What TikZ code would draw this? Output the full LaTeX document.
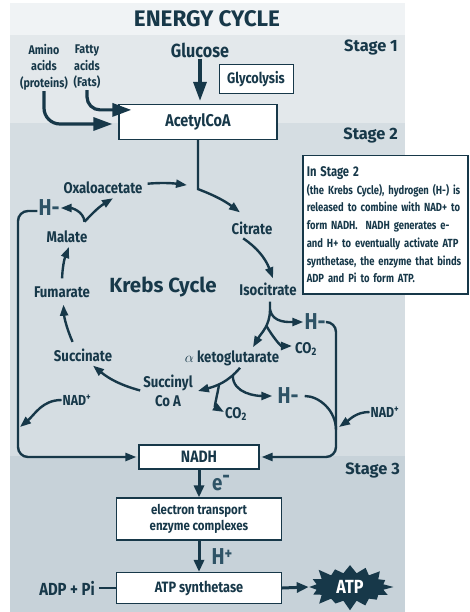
\documentclass[tikz,border=0pt]{standalone}
\usepackage{fontspec}
\setmainfont{Fira Sans}
\newfontfamily\condfont{Fira Sans}[FakeStretch=0.85]
\newfontfamily\infofont{Fira Sans}[FakeStretch=0.8]
\usepackage{tikz}
\usetikzlibrary{positioning, arrows.meta, calc, shapes.symbols}
\definecolor{darkteal}{HTML}{173849}
\definecolor{slate}{HTML}{2E5366}
\definecolor{bandtitle}{HTML}{F0F3F5}
\definecolor{bandone}{HTML}{E3E8EB}
\definecolor{bandtwo}{HTML}{D5DDE2}
\definecolor{bandthree}{HTML}{C7D2D9}

\begin{document}
\begin{tikzpicture}[x=1pt, y=1pt, text=darkteal]

    % --- styles ---
    \tikzset{
        lbl/.style={font=\condfont\bfseries\fontsize{15.5}{17}\selectfont, inner sep=1pt},
        smalllbl/.style={font=\condfont\bfseries\fontsize{12.6}{16.5}\selectfont, align=center, inner sep=1pt},
        biglbl/.style={font=\condfont\bfseries\fontsize{23}{23}\selectfont, text=slate, inner sep=1pt},
        stage/.style={font=\bfseries\fontsize{16.4}{18}\selectfont, anchor=east, inner sep=0pt},
        block/.style={rectangle, draw=darkteal, line width=1.2pt, fill=white, align=center,
                      font=\condfont\bfseries\fontsize{15}{17}\selectfont},
        arr/.style={draw=darkteal, line width=2.4pt, -{Triangle[length=11pt, width=8pt]}},
        fatarr/.style={draw=darkteal, line width=3.2pt, -{Triangle[length=19pt, width=13pt]}},
        flow/.style={draw=darkteal, line width=3pt, -{Triangle[length=12pt, width=10pt]}}
    }

    % --- background bands ---
    \useasboundingbox (0,0) rectangle (470,-612);
    \fill[bandtitle] (10,-3) rectangle (405,-35);
    \fill[bandone]   (10,-35) rectangle (405,-123);
    \fill[bandtwo]   (10,-123) rectangle (405,-456);
    \fill[bandthree] (10,-456) rectangle (405,-612);

    \node[font=\bfseries\fontsize{22.5}{24}\selectfont] (title) at (207,-19) {ENERGY CYCLE};
    \node[stage] (st1) at (398,-48)  {Stage 1};
    \node[stage] (st2) at (398,-135) {Stage 2};
    \node[stage] (st3) at (400,-470) {Stage 3};

    % --- stage 1 ---
    \node[smalllbl] (amino) at (44,-67) {Amino\\acids\\(proteins)};
    \node[smalllbl] (fatty) at (87,-67) {Fatty\\acids\\(Fats)};
    \node[lbl, font=\condfont\bfseries\fontsize{19}{21}\selectfont] (glu) at (200,-50) {Glucose};
    \node[block, line width=1pt, minimum width=74pt, minimum height=29pt] (glyc) at (256,-79) {Glycolysis};
    \node[block, minimum width=158pt, minimum height=35pt, font=\condfont\bfseries\fontsize{17}{19}\selectfont] (acetyl) at (198,-122) {AcetylCoA};

    \draw[fatarr, shorten >=3pt] (glu.south) -- (glu.south |- acetyl.north);
    \draw[fatarr, rounded corners=16pt] (amino.south) |- ([xshift=-6pt, yshift=-2pt]acetyl.west);
    \draw[fatarr, rounded corners=13pt] (fatty.south) |- ([shift={(13pt,-6pt)}]acetyl.north west);

    % --- stage 2: Krebs cycle ---
    \node[lbl] (oxa)  at (103,-188) {Oxaloacetate};
    \node[lbl] (cit)  at (252,-228) {Citrate};
    \node[lbl] (iso)  at (268,-289) {Isocitrate};
    \node[lbl] (akg)  at (232,-358) {$\alpha$ ketoglutarate};
    \node[lbl, align=center, font=\condfont\bfseries\fontsize{15.5}{19.5}\selectfont] (succoa) at (168,-391) {Succinyl\\Co A};
    \node[lbl] (succ) at (83,-355)  {Succinate};
    \node[lbl] (fum)  at (62,-292)  {Fumarate};
    \node[lbl] (mal)  at (67,-237)  {Malate};
    \node[font=\bfseries\fontsize{20.5}{22}\selectfont] (krebs) at (163,-287) {Krebs Cycle};

    \node[biglbl] (hA) at (49,-208)  {H-};
    \node[biglbl] (hB) at (315,-322) {H-};
    \node[biglbl] (hC) at (288,-396) {H-};
    \node[lbl] (co2a) at (306,-349) {CO\textsubscript{2}};
    \node[lbl] (co2b) at (236,-414) {CO\textsubscript{2}};
    \node[lbl, font=\condfont\bfseries\fontsize{14.5}{16}\selectfont] (nadL) at (77,-400)  {NAD\textsuperscript{+}};
    \node[lbl, font=\condfont\bfseries\fontsize{14.5}{16}\selectfont] (nadR) at (385,-412) {NAD\textsuperscript{+}};

    % info box
    \node[draw=darkteal, line width=1.5pt, fill=white, anchor=north west, align=left,
          text width=157pt, minimum height=138pt, inner xsep=4pt, inner ysep=0pt,
          font=\infofont\bfseries\fontsize{11.8}{17.7}\selectfont] (info) at (302,-155)
        {{\fontsize{14}{17.7}\selectfont In Stage 2}\\
         (the Krebs Cycle), hydrogen (H-) is\\
         released to combine with NAD+ to\\
         form NADH.\ \ NADH generates e-\\
         and H+ to eventually activate ATP\\
         synthetase, the enzyme that binds\\
         ADP and Pi to form ATP.};

    % --- stage 3 ---
    \node[block, minimum width=120pt, minimum height=24pt, font=\condfont\bfseries\fontsize{16.5}{18}\selectfont] (nadh) at (199,-457) {NADH};
    \node[biglbl, font=\condfont\bfseries\fontsize{22}{22}\selectfont] (eminus) at (221,-483) {e\raisebox{.3em}{-}};
    \node[block, minimum width=165pt, minimum height=42pt, font=\condfont\bfseries\fontsize{13.5}{16.5}\selectfont] (etc) at (199,-519) {electron transport\\enzyme complexes};
    \node[biglbl, font=\condfont\bfseries\fontsize{23}{23}\selectfont] (hplus) at (222,-557) {H\raisebox{.25em}{\fontsize{17}{17}\selectfont+}};
    \node[block, minimum width=165pt, minimum height=31pt] (atps) at (199,-588) {ATP synthetase};
    \node[lbl, font=\condfont\bfseries\fontsize{17.5}{19}\selectfont] (adp) at (67,-588) {ADP + Pi};
    \node[starburst, starburst points=16, starburst point height=11pt,
          fill=darkteal, text=white, minimum width=90pt, minimum height=50pt, inner sep=0pt,
          font=\condfont\bfseries\fontsize{19}{20}\selectfont] (atp) at (350,-587) {ATP};

    % --- cycle arrows ---
    \coordinate (join) at ($(acetyl.south)+(0,-49)$);
    \draw[arr] (acetyl.south) -- (join) to[bend left=8] ([shift={(-12pt,8pt)}]cit.north);
    \draw[arr, shorten <=4pt] ([yshift=4pt]oxa.east) to[bend left=6] ([shift={(-11pt,4pt)}]join);
    \draw[arr, shorten <=5pt] ([xshift=-13pt]cit.south) to[bend left=18] ([shift={(5pt,3pt)}]iso.north);

    \coordinate (isoj) at ([shift={(2pt,-5pt)}]iso.south);
    \draw[arr] (isoj) -- ++(0,-8pt) coordinate (isoh) to[out=-90, in=60] coordinate[pos=0.4] (isoc) ([shift={(21pt,2pt)}]akg.north);
    \draw[arr] (isoh) to[out=-80, in=180] (hB.west);
    \draw[arr, shorten >=2pt] (isoc) to[out=-60, in=180] ([yshift=3pt]co2a.west);

    \coordinate (akgj) at ([shift={(8pt,-1pt)}]akg.south);
    \draw[arr] (akgj) to[out=-130, in=15] coordinate[pos=0.2] (akgh) coordinate[pos=0.55] (akgc) ([xshift=4pt]succoa.east);
    \draw[arr, shorten >=4pt] (akgh) to[out=-90, in=180] (hC.west);
    \draw[arr] (akgc) to[out=-100, in=150] ([yshift=2pt]co2b.west);

    \draw[arr, shorten <=2pt] (succoa.west) to[bend left=12] ([shift={(10pt,-3pt)}]succ.south);
    \draw[arr, shorten <=6pt, shorten >=6pt] ([xshift=-8pt]succ.north) to[bend left=10] ([xshift=1pt]fum.south);
    \draw[arr, shorten <=7pt, shorten >=3pt] (fum.north) to[bend left=10] ([xshift=3pt]mal.south);
    \draw[arr] ([shift={(-4pt,8pt)}]mal.north east) coordinate (malj) to[bend left=8] ([shift={(10pt,-3pt)}]oxa.south);
    \draw[arr] (malj) to[out=95, in=0] (hA.east);

    % --- hydrogen to NADH ---
    \coordinate (lft) at (18,-300);
    \coordinate (rgt) at (336,-380);
    \coordinate (rmerge) at (336,-430);
    \coordinate (ltip) at (20,-427);
    \coordinate (rtip) at (339,-427);
    \draw[arr, rounded corners=10pt] ([yshift=-3pt]hA.west) -| (lft) |- ([xshift=-2pt]nadh.west);
    \draw[arr, rounded corners=10pt] (hB.east) -| (rgt) |- ([xshift=2pt]nadh.east);
    \draw[darkteal, line width=2.4pt, shorten <=5pt] (hC.east) to[out=0, in=90] (rmerge);
    \draw[arr] (nadL.west) to[out=180, in=40] (ltip);
    \draw[arr] (nadR.west) to[out=180, in=35] (rtip);

    % --- electron transport chain ---
    \draw[flow] (nadh.south) -- (etc.north);
    \draw[flow] (etc.south) -- (atps.north);
    \draw[darkteal, line width=2.5pt, shorten <=3pt] (adp.east) -- (atps.west);
    \draw[flow] (atps.east) -- (atp.west);

\end{tikzpicture}
\end{document}
